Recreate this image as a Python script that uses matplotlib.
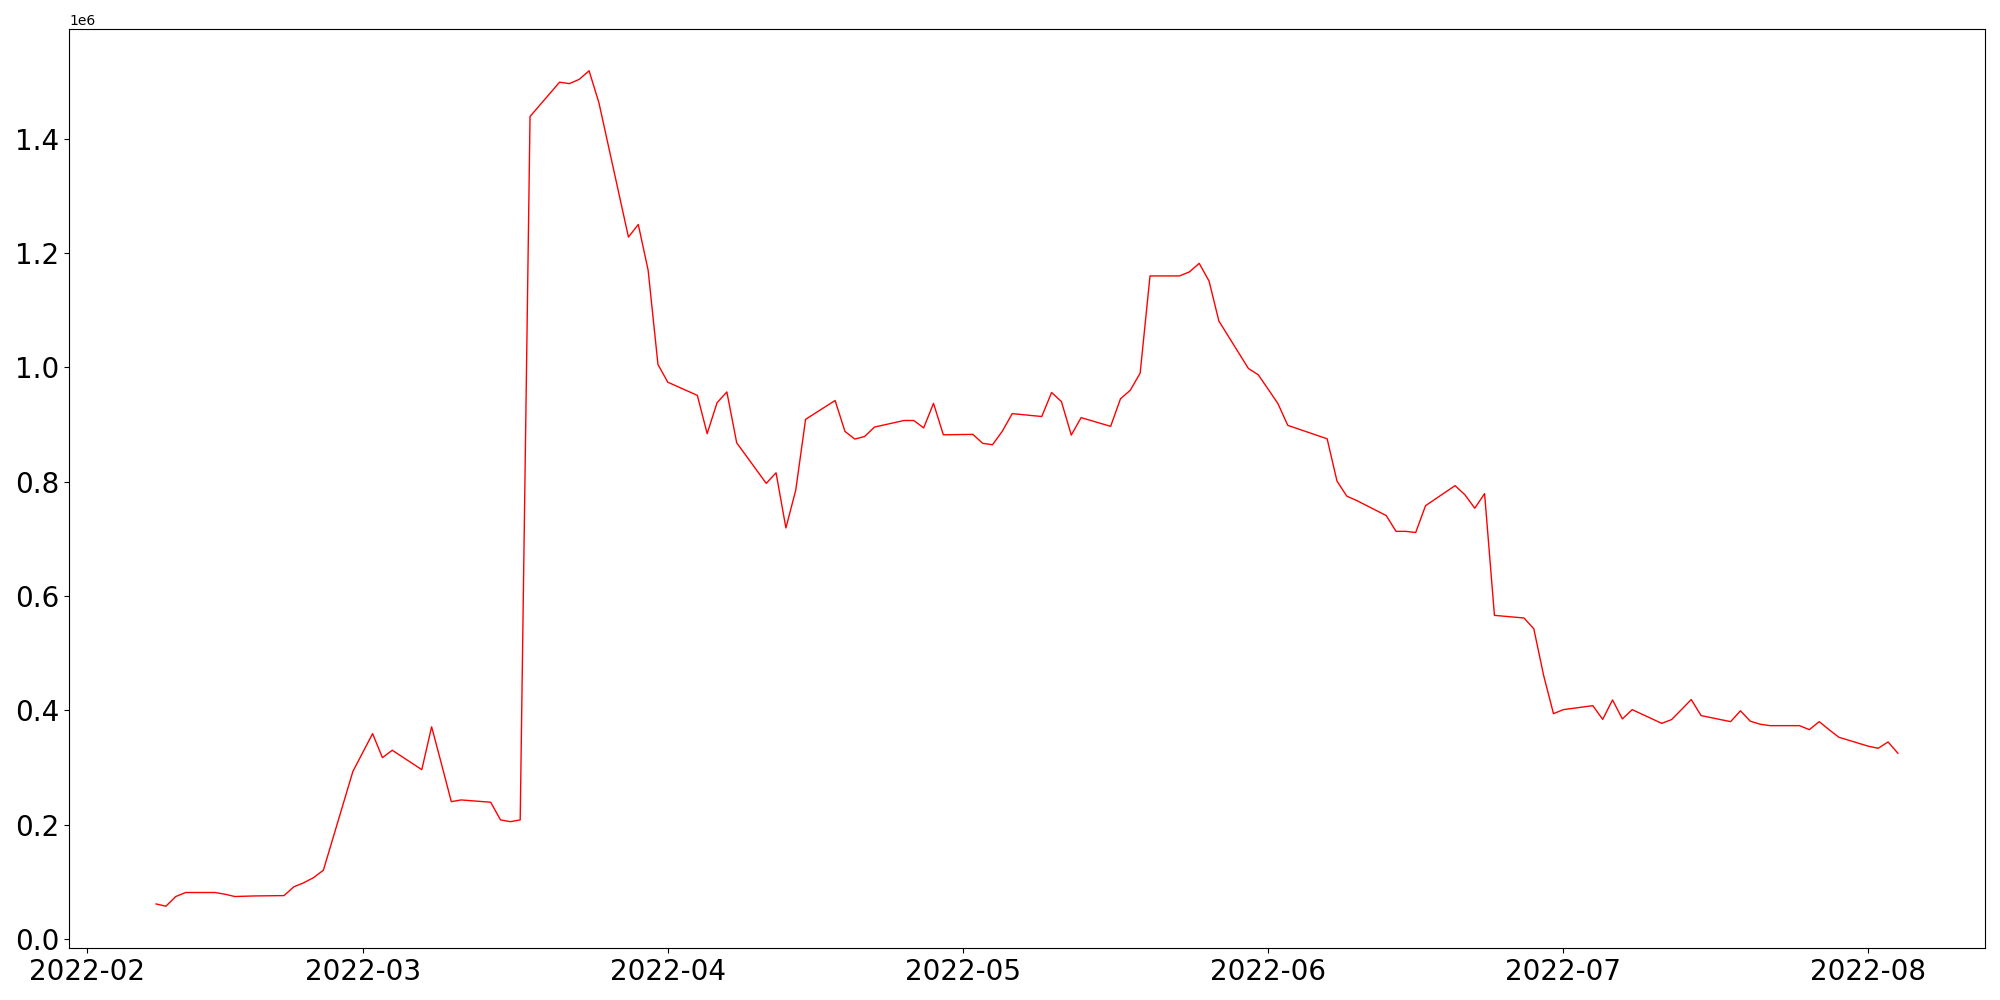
import pandas as pd
import matplotlib
matplotlib.use("Agg")
import matplotlib.pyplot as plt

# trading days per month (2022) and the values
feb_days = [8, 9, 10, 11, 14, 15, 16, 17, 18, 21, 22, 23, 24, 25, 28]
feb_vals = [61000, 57000, 74000, 81000, 81000, 78000, 74000, 74500, 75000,
            75600, 91000, 98000, 107000, 120000, 293000]

mar_days = [1, 2, 3, 4, 7, 8, 9, 10, 11, 14, 15, 16, 17, 18, 21, 22, 23, 24,
            25, 28, 29, 30, 31]
mar_vals = [326000, 359000, 317000, 330000, 296000, 371000, 306000, 240000,
            243000, 239000, 208000, 205000, 208000, 1439000, 1499000, 1496500,
            1504000, 1519000, 1463000, 1228000, 1250000, 1170000, 1005000]

apr_days = [1, 4, 5, 6, 7, 8, 11, 12, 13, 14, 15, 18, 19, 20, 21, 22, 25, 26,
            27, 28, 29]
apr_vals = [974000, 951000, 884000, 938000, 957000, 868000, 797000, 815500,
            719000, 785000, 909000, 942000, 888000, 874500, 879000, 895500,
            907000, 907000, 894000, 937000, 882000]

may_days = [2, 3, 4, 5, 6, 9, 10, 11, 12, 13, 16, 17, 18, 19, 20, 23, 24, 25,
            26, 27, 30, 31]
may_vals = [882700, 867000, 864600, 888500, 919000, 914000, 956000, 940000,
            881500, 912000, 896800, 945000, 960000, 990000, 1160000, 1160000,
            1167000, 1182000, 1151000, 1081000, 998000, 987000]

jun_days = [1, 2, 3, 6, 7, 8, 9, 10, 13, 14, 15, 16, 17, 20, 21, 22, 23, 24,
            27, 28, 29, 30]
jun_vals = [962000, 936500, 898500, 881000, 875000, 801000, 774600, 767000,
            740700, 713000, 713000, 711000, 758000, 793000, 777000, 753500,
            779000, 566000, 561400, 542600, 460800, 394000]

jul_days = [1, 4, 5, 6, 7, 8, 11, 12, 13, 14, 15, 18, 19, 20, 21, 22, 25, 26,
            27, 28, 29]
jul_vals = [401000, 408000, 384000, 418000, 384800, 401000, 377000, 383600,
            401000, 418700, 390600, 380000, 399000, 380800, 375500, 373000,
            373000, 366000, 380000, 366000, 352700]

aug_days = [1, 2, 3, 4]
aug_vals = [337000, 333400, 344500, 324700]


def build_series():
    months = [(2, feb_days, feb_vals), (3, mar_days, mar_vals),
              (4, apr_days, apr_vals), (5, may_days, may_vals),
              (6, jun_days, jun_vals), (7, jul_days, jul_vals),
              (8, aug_days, aug_vals)]
    dates = []
    values = []
    for month, days, vals in months:
        for d, v in zip(days, vals):
            dates.append(pd.Timestamp(2022, month, d))
            values.append(v)
    return pd.Series(values, index=pd.DatetimeIndex(dates))


def main():
    data = build_series()

    fig, ax = plt.subplots(figsize=(20, 10), dpi=100)
    ax.plot(data.index, data.values, color="red", linewidth=1.0)
    ax.tick_params(axis="both", labelsize=20)

    fig.subplots_adjust(left=0.0345, right=0.9925, top=0.971, bottom=0.052)
    fig.savefig("out.png", dpi=100)


if __name__ == "__main__":
    main()
